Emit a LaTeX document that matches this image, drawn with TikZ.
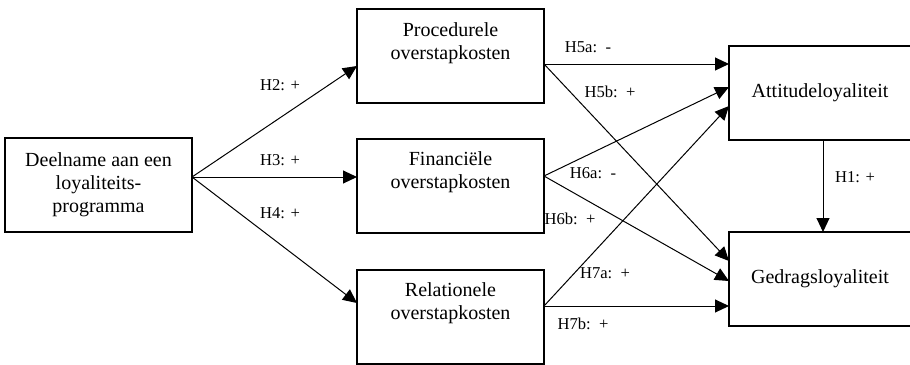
\documentclass[tikz,border=0pt]{standalone}
\usepackage{fontspec}
\setmainfont{Liberation Serif}
\usetikzlibrary{arrows.meta}
\tikzset{
	->, % every connector is directed
	>={Triangle[length=7pt,width=6.5pt]}, % big filled heads
	every node/.style={inner sep=0pt, outer sep=0pt},
	box/.style={draw, line width=0.7pt, minimum width=93.5pt, minimum height=47pt, font=\fontsize{10}{11.5}\selectfont, align=center}, % construct boxes
	boxtext/.style={font=\fontsize{10}{11.5}\selectfont, align=center}, % text sitting high in a box
	hyp/.style={font=\fontsize{8.3}{10}\selectfont}, % hypothesis labels
}
\begin{document}
\begin{tikzpicture}[x=0.5pt, y=-0.5pt, line width=0.5pt]
	\useasboundingbox (0,0) rectangle (910,364);
	% boxes
	\node[box] (dln) at (98.5,185) {Deelname aan een\\loyaliteits-\\programma};
	\node[box] (proc) at (450.5,56) {};
	\node[box] (fin) at (450.5,186) {};
	\node[box] (rel) at (450.5,317) {};
	\node[boxtext] (proctxt) at (450.5,43) {Procedurele\\overstapkosten};
	\node[boxtext] (fintxt) at (450.5,172.5) {Financiële\\overstapkosten};
	\node[boxtext] (reltxt) at (450.5,303.5) {Relationele\\overstapkosten};
	\node[box, minimum width=91pt] (att) at (820,93) {Attitudeloyaliteit};
	\node[box, minimum width=91pt] (ged) at (820,279) {Gedragsloyaliteit};
	% H2 - H4
	\draw ([yshift=4pt]dln.east) -- ([yshift=-5pt]proc.west);
	\draw ([yshift=4pt]dln.east) -- ([yshift=4.5pt]fin.west);
	\draw ([yshift=4pt]dln.east) -- ([yshift=7pt]rel.west);
	% H5 - H7
	\draw ([yshift=-4pt]proc.east) -- ([yshift=14.5pt]att.west);
	\draw ([yshift=-4pt]proc.east) -- ([yshift=9pt]ged.west);
	\draw ([yshift=5pt]fin.east) -- ([yshift=3pt]att.west);
	\draw ([yshift=5pt]fin.east) -- ([yshift=-1pt]ged.west);
	\draw ([yshift=5.5pt]rel.east) -- ([yshift=-6.5pt]att.west);
	\draw ([yshift=5.5pt]rel.east) -- ([yshift=-13.5pt]ged.west);
	% H1
	\draw ([xshift=1.5pt]att.south) -- ([xshift=1.5pt]ged.north);
	% labels
	\node[hyp] (h1) at (855,177) {H1: +};
	\node[hyp] (h2) at (280,85) {H2: +};
	\node[hyp] (h3) at (280,160) {H3: +};
	\node[hyp] (h4) at (280,213) {H4: +};
	\node[hyp] (h5a) at (588,47) {H5a:~~-};
	\node[hyp] (h5b) at (610,92) {H5b:~~+};
	\node[hyp] (h6a) at (593,173) {H6a:~~-};
	\node[hyp] (h6b) at (570,219) {H6b:~~+};
	\node[hyp] (h7a) at (605,273) {H7a:~~+};
	\node[hyp] (h7b) at (583,324) {H7b:~~+};
\end{tikzpicture}
\end{document}
